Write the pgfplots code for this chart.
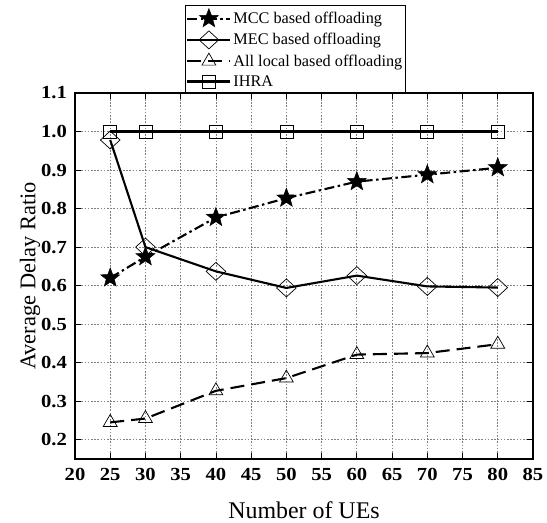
\documentclass[border=0pt]{standalone}
\usepackage{pgfplots}
\pgfplotsset{compat=1.18}
\usepackage{fontspec}
\setmainfont{Liberation Serif}
\pgfdeclareplotmark{fstar}{%
  \pgfpathmoveto{\pgfpointpolar{90}{\pgfplotmarksize}}%
  \pgfpathlineto{\pgfpointpolar{126}{0.42\pgfplotmarksize}}%
  \pgfpathlineto{\pgfpointpolar{162}{\pgfplotmarksize}}%
  \pgfpathlineto{\pgfpointpolar{198}{0.42\pgfplotmarksize}}%
  \pgfpathlineto{\pgfpointpolar{234}{\pgfplotmarksize}}%
  \pgfpathlineto{\pgfpointpolar{270}{0.42\pgfplotmarksize}}%
  \pgfpathlineto{\pgfpointpolar{306}{\pgfplotmarksize}}%
  \pgfpathlineto{\pgfpointpolar{342}{0.42\pgfplotmarksize}}%
  \pgfpathlineto{\pgfpointpolar{18}{\pgfplotmarksize}}%
  \pgfpathlineto{\pgfpointpolar{54}{0.42\pgfplotmarksize}}%
  \pgfpathclose
  \pgfusepathqfillstroke}
\begin{document}
\begin{tikzpicture}
\begin{axis}[
  at={(0,0)}, anchor=south west,
  scale only axis, width=458bp, height=366bp,
  xmin=20, xmax=85, ymin=0.15, ymax=1.1,
  xtick={20,25,30,35,40,45,50,55,60,65,70,75,80,85},
  ytick={0.2,0.3,0.4,0.5,0.6,0.7,0.8,0.9,1.0,1.1},
  xticklabel={\scalebox{1.12}[1]{\pgfmathprintnumber[assume math mode=true]{\tick}}},
  yticklabel={\scalebox{1.12}[1]{\pgfmathprintnumber[assume math mode=true,fixed,fixed zerofill,precision=1]{\tick}}},
  tick label style={font=\fontsize{18.5}{20}\selectfont\bfseries},
  xticklabel style={yshift=-6bp},
  yticklabel style={xshift=-4.5bp},
  tick align=inside,
  major tick length=6bp,
  grid=major,
  major grid style={dash pattern=on 1.6bp off 1.6bp, black!50, line width=0.7bp},
  axis line style={line width=1.6bp},
  every tick/.style={line width=0.8bp, black},
  xlabel={Number of UEs}, ylabel={Average Delay Ratio},
  xlabel style={font=\fontsize{24}{26}\selectfont, at={(axis description cs:0.5,-0.139)}, anchor=center},
  ylabel style={font=\fontsize{22.5}{26}\selectfont, at={(axis description cs:-0.098,0.5)}, anchor=center},
  legend style={at={(0.481,1)}, anchor=south, font=\fontsize{16.3}{20}\selectfont,
    draw=black, line width=0.8bp, inner xsep=1bp, row sep=3.8bp, inner ysep=3bp},
  legend cell align=left,
  legend image code/.code={%
    \draw[#1] (0bp,0bp) -- (43bp,0bp);
    \draw[#1, solid] plot coordinates {(21.5bp,0bp)};},
]
\addplot[black, line width=2.1bp, dash pattern=on 10bp off 3.5bp on 2.5bp off 3.5bp,
  mark=fstar, mark size=10bp, mark options={solid, fill=black, line width=0.5bp}]
  coordinates {(25,0.620) (30,0.675) (40,0.777) (50,0.827) (60,0.870) (70,0.888) (80,0.906)};
\addlegendentry{MCC based offloading}
\addplot[black, line width=2.1bp, mark=diamond, mark size=9bp,
  mark options={solid, xscale=1.45, line width=0.7bp, fill=none}]
  coordinates {(25,0.978) (30,0.700) (40,0.637) (50,0.594) (60,0.626) (70,0.598) (80,0.595)};
\addlegendentry{MEC based offloading}
\addplot[black, line width=2.1bp, dash pattern=on 14bp off 7bp, mark=triangle, mark size=8bp,
  mark options={solid, line width=0.7bp, fill=white}]
  coordinates {(25,0.245) (30,0.255) (40,0.327) (50,0.360) (60,0.421) (70,0.425) (80,0.448)};
\addlegendentry{All local based offloading}
\addplot[black, line width=2.1bp, mark=square, mark size=6.5bp,
  mark options={solid, line width=0.7bp, fill=none}]
  coordinates {(25,1.0) (30,1.0) (40,1.0) (50,1.0) (60,1.0) (70,1.0) (80,1.0)};
\addlegendentry{IHRA}
\end{axis}
\path[use as bounding box] (-75bp,-64bp) rectangle (472bp,459bp);
\end{tikzpicture}
\end{document}
